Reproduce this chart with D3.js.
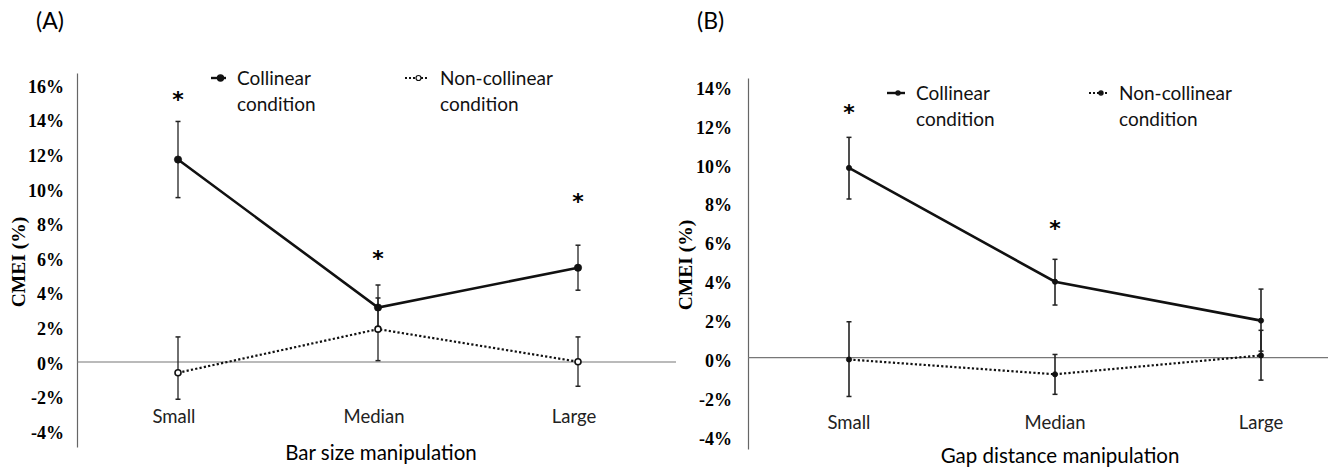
<!DOCTYPE html>
<html>
<head>
<meta charset="utf-8">
<script src="https://cdn.jsdelivr.net/npm/d3@7"></script>
<style>
  body { margin: 0; background: #fff; }
  svg { display: block; }
</style>
</head>
<body>
<svg id="chart" width="1328" height="467"></svg>
<script>
// categories shared by both panels
const categories = ["Small", "Median", "Large"];

// panel A: bar size manipulation
const ticksA = [16, 14, 12, 10, 8, 6, 4, 2, 0, -2, -4];
const collinearA = [11.7, 3.15, 5.45];
const collinearA_lo = [9.5, 1.9, 4.15];
const collinearA_hi = [13.9, 4.45, 6.75];
const nonCollA = [-0.62, 1.9, 0.02];
const nonCollA_lo = [-2.15, 0.08, -1.4];
const nonCollA_hi = [1.45, 3.7, 1.45];
const starsA = [15.5, 6.3, 9.6];

// panel B: gap distance manipulation
const ticksB = [14, 12, 10, 8, 6, 4, 2, 0, -2, -4];
const collinearB = [9.75, 3.9, 1.9];
const collinearB_lo = [8.15, 2.7, 0.33];
const collinearB_hi = [11.32, 5.05, 3.52];
const nonCollB = [-0.1, -0.86, 0.11];
const nonCollB_lo = [-2.0, -1.89, -1.16];
const nonCollB_hi = [1.84, 0.16, 1.4];
const starsB = [12.9, 6.93, null];

const svg = d3.select("#chart");
const sans = "Lato, 'Open Sans', sans-serif";
const serif = "'Liberation Serif', 'Times New Roman', serif";

function drawPanel(p) {
  const g = svg.append("g");

  const y = d3.scaleLinear().domain(p.yDomain).range([p.bottom, p.top]);
  const x = d3.scalePoint().domain(categories).range(p.xRange);

  // y axis
  const yAxis = d3.axisLeft(y)
      .tickValues(p.ticks)
      .tickFormat(d => d + "%")
      .tickSize(0)
      .tickSizeOuter(0)
      .tickPadding(p.tickPad);
  const ax = g.append("g")
      .attr("transform", `translate(${p.axisX},0)`)
      .call(yAxis);
  ax.select(".domain").attr("stroke", "#666").attr("stroke-width", 1.2);
  ax.selectAll("text")
      .attr("font-family", serif)
      .attr("font-weight", "bold")
      .attr("font-size", 18)
      .attr("fill", "#000")
      .attr("dy", p.tickDy);

  // zero line
  g.append("line")
      .attr("x1", p.axisX).attr("x2", p.zeroEnd)
      .attr("y1", y(0)).attr("y2", y(0))
      .attr("stroke", "#777").attr("stroke-width", 1.2);

  // y title
  g.append("text")
      .attr("transform", `translate(${p.titleX},${p.titleY}) rotate(-90)`)
      .attr("text-anchor", "middle")
      .attr("font-family", serif)
      .attr("font-weight", "bold")
      .attr("font-size", 19.5)
      .attr("fill", "#000")
      .text("CMEI (%)");

  // category labels
  g.selectAll(".cat")
      .data(categories)
      .enter().append("text")
      .attr("x", d => x(d) + p.catShift)
      .attr("y", p.catY)
      .attr("text-anchor", "middle")
      .attr("font-family", sans)
      .attr("font-size", 18.5)
      .attr("fill", "#222")
      .text(d => d);

  g.append("text")
      .attr("x", p.xTitleX).attr("y", p.xTitleY)
      .attr("text-anchor", "middle")
      .attr("font-family", sans)
      .attr("font-size", 20.5)
      .attr("fill", "#000")
      .text(p.xTitle);

  g.append("text")
      .attr("x", p.panelX).attr("y", 29)
      .attr("font-family", sans)
      .attr("font-size", 23)
      .attr("fill", "#000")
      .text(p.panelLabel);

  const series = [
    { vals: p.coll, lo: p.collLo, hi: p.collHi, dash: null, width: 2.6, open: false },
    { vals: p.non, lo: p.nonLo, hi: p.nonHi, dash: "2.2,2.2", width: 2.2, open: p.openNon }
  ];

  // error bars
  series.forEach(s => {
    categories.forEach((c, i) => {
      const cx = x(c);
      g.append("line")
          .attr("x1", cx).attr("x2", cx)
          .attr("y1", y(s.lo[i])).attr("y2", y(s.hi[i]))
          .attr("stroke", "#222").attr("stroke-width", p.errW);
      [s.lo[i], s.hi[i]].forEach(v => {
        g.append("line")
            .attr("x1", cx - 2.5).attr("x2", cx + 2.5)
            .attr("y1", y(v)).attr("y2", y(v))
            .attr("stroke", "#222").attr("stroke-width", 1.5);
      });
    });
  });

  const line = d3.line().x((d, i) => x(categories[i])).y(d => y(d));

  series.slice().reverse().forEach(s => {
    g.append("path")
        .datum(s.vals)
        .attr("d", line)
        .attr("fill", "none")
        .attr("stroke", "#111")
        .attr("stroke-width", s.width)
        .attr("stroke-dasharray", s.dash);
    g.selectAll(null)
        .data(s.vals)
        .enter().append("circle")
        .attr("cx", (d, i) => x(categories[i]))
        .attr("cy", d => y(d))
        .attr("r", s.open ? 3 : p.dotR)
        .attr("fill", s.open ? "#fff" : "#111")
        .attr("stroke", "#111")
        .attr("stroke-width", s.open ? 1.6 : 0.8);
  });

  // significance stars
  g.selectAll(".star")
      .data(p.stars.map((v, i) => ({ v, c: categories[i] })).filter(d => d.v != null))
      .enter().append("text")
      .attr("x", d => x(d.c))
      .attr("y", d => y(d.v) + 13)
      .attr("text-anchor", "middle")
      .attr("font-family", "'DejaVu Sans', sans-serif")
      .attr("font-weight", "bold")
      .attr("font-size", 22)
      .attr("fill", "#000")
      .text("*");

  // legend
  const leg = [
    { x: p.legX[0], tx: p.legTx[0], dash: null, w: 2.4, open: false, l1: "Collinear" },
    { x: p.legX[1], tx: p.legTx[1], dash: "2,2", w: 2, open: p.openNon, l1: "Non-collinear" }
  ];
  leg.forEach(d => {
    g.append("line")
        .attr("x1", d.x[0]).attr("x2", d.x[1])
        .attr("y1", p.legY).attr("y2", p.legY)
        .attr("stroke", "#111").attr("stroke-width", d.w)
        .attr("stroke-dasharray", d.dash);
    g.append("circle")
        .attr("cx", (d.x[0] + d.x[1]) / 2 + 2).attr("cy", p.legY)
        .attr("r", d.open ? 2.5 : p.dotR - 0.5)
        .attr("fill", d.open ? "#fff" : "#111")
        .attr("stroke", "#111").attr("stroke-width", 1.2);
    const t = g.append("text")
        .attr("x", d.tx).attr("y", p.legY + 7)
        .attr("font-family", sans)
        .attr("font-size", 19)
        .attr("fill", "#111");
    t.append("tspan").text(d.l1);
    t.append("tspan").attr("x", d.tx).attr("dy", 25.5).text("condition");
  });
}

drawPanel({
  panelLabel: "(A)", panelX: 36,
  ticks: ticksA, yDomain: [-4.91, 16.7], top: 73, bottom: 447,
  axisX: 77, xRange: [178, 578], zeroEnd: 676,
  tickPad: 13, tickDy: "0.4em",
  titleX: 25, titleY: 262,
  catY: 423, catShift: -4,
  xTitle: "Bar size manipulation", xTitleX: 381, xTitleY: 460,
  coll: collinearA, collLo: collinearA_lo, collHi: collinearA_hi,
  non: nonCollA, nonLo: nonCollA_lo, nonHi: nonCollA_hi,
  openNon: true, dotR: 3.6, errW: 1.3, stars: starsA,
  legY: 78, legX: [[211, 226], [405, 428]], legTx: [237, 440]
});

drawPanel({
  panelLabel: "(B)", panelX: 697,
  ticks: ticksB, yDomain: [-4.7, 14.37], top: 78, bottom: 449,
  axisX: 748, xRange: [849, 1261], zeroEnd: 1328,
  tickPad: 16, tickDy: "0.5em",
  titleX: 692, titleY: 265,
  catY: 429, catShift: 0,
  xTitle: "Gap distance manipulation", xTitleX: 1060, xTitleY: 463,
  coll: collinearB, collLo: collinearB_lo, collHi: collinearB_hi,
  non: nonCollB, nonLo: nonCollB_lo, nonHi: nonCollB_hi,
  openNon: false, dotR: 2.6, errW: 1.6, stars: starsB,
  legY: 93, legX: [[887, 905], [1089, 1109]], legTx: [916, 1119]
});
</script>
</body>
</html>
